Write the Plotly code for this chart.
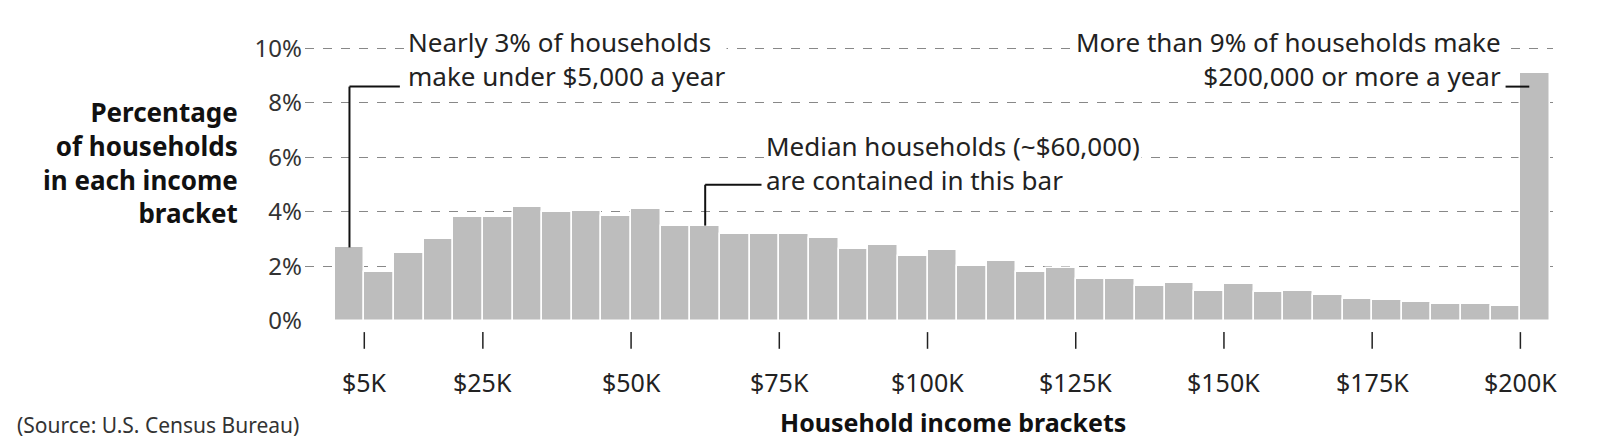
import plotly.graph_objects as go

# bracket centers in $K (5K wide brackets, last one is $200K+)
bracket_mid = [2.5 + 5 * i for i in range(40)] + [202.5]
pct = [2.7, 1.8, 2.5, 3.0, 3.8, 3.8, 4.2, 4.0, 4.05, 3.85,
       4.1, 3.5, 3.5, 3.2, 3.2, 3.2, 3.05, 2.65, 2.8, 2.4,
       2.6, 2.0, 2.2, 1.8, 1.95, 1.55, 1.55, 1.3, 1.4, 1.1,
       1.35, 1.05, 1.1, 0.95, 0.8, 0.77, 0.7, 0.63, 0.63, 0.55,
       9.1]
tick_vals = [5, 25, 50, 75, 100, 125, 150, 175, 200]
tick_text = ["$5K", "$25K", "$50K", "$75K", "$100K", "$125K", "$150K", "$175K", "$200K"]
y_ticks = [0, 2, 4, 6, 8, 10]

FONT = "Noto Sans"
fig = go.Figure(go.Bar(
    x=bracket_mid, y=pct, width=5,
    marker=dict(color="#bdbdbd", line=dict(color="white", width=1.5)),
))

# x tick marks below the bars
for v, t in zip(tick_vals, tick_text):
    fig.add_shape(type="line", xref="x", yref="paper", x0=v, x1=v, y0=-0.04, y1=-0.10,
                  line=dict(color="#222", width=1.5))
    fig.add_annotation(x=v, y=-0.15, xref="x", yref="paper", text=t,
                       showarrow=False, yanchor="top", font=dict(size=25, color="#222", family=FONT))

ann_font = dict(size=26, color="#222", family=FONT)
line = dict(color="#111", width=2)
# left note
fig.add_annotation(x=12, y=9.6, text="Nearly 3% of households<br>make under $5,000 a year", xanchor="left",
                   align="left", showarrow=False, font=ann_font, bgcolor="white")
fig.add_shape(type="line", x0=2.5, x1=2.5, y0=pct[0], y1=8.6, line=line)
fig.add_shape(type="line", x0=2.5, x1=11, y0=8.6, y1=8.6, line=line)
# right note
fig.add_annotation(x=197, y=9.6, text="More than 9% of households make<br>$200,000 or more a year", xanchor="right",
                   align="right", showarrow=False, font=ann_font, bgcolor="white")
fig.add_shape(type="line", x0=197.5, x1=201.5, y0=8.6, y1=8.6, line=line)
# median note
fig.add_annotation(x=72.5, y=5.8, text="Median households (~$60,000)<br>are contained in this bar", xanchor="left",
                   align="left", showarrow=False, font=ann_font, bgcolor="white")
fig.add_shape(type="line", x0=62.5, x1=62.5, y0=pct[12], y1=5.0, line=line)
fig.add_shape(type="line", x0=62.5, x1=72, y0=5.0, y1=5.0, line=line)

fig.add_annotation(x=-0.052, y=0.57, xref="paper", yref="paper",
                   text="<b>Percentage<br>of households<br>in each income<br>bracket</b>",
                   xanchor="right", align="right", showarrow=False,
                   font=dict(size=26, color="#111", family=FONT))
fig.add_annotation(x=-0.232, y=-0.43, xref="paper", yref="paper", xanchor="left", yanchor="bottom",
                   text="(Source: U.S. Census Bureau)", showarrow=False,
                   font=dict(size=21, color="#333", family=FONT))
fig.add_annotation(x=0.519, y=-0.43, xref="paper", yref="paper", yanchor="bottom",
                   text="<b>Household income brackets</b>", showarrow=False,
                   font=dict(size=25, color="#111", family=FONT))

fig.update_layout(
    width=1600, height=445,
    margin=dict(l=297, r=55, t=35, b=132),
    paper_bgcolor="white", plot_bgcolor="white",
    showlegend=False, bargap=0,
    xaxis=dict(range=[-5, 205.5], showticklabels=False, showgrid=False, zeroline=False),
    yaxis=dict(range=[0, 10.2], tickvals=y_ticks, ticktext=[f"{v}%" for v in y_ticks],
               showgrid=True, gridcolor="#888", griddash="dash", gridwidth=1, zeroline=False,
               tickfont=dict(size=24, color="#333", family=FONT), ticklabelstandoff=2),
)
fig.write_html("out.html")
